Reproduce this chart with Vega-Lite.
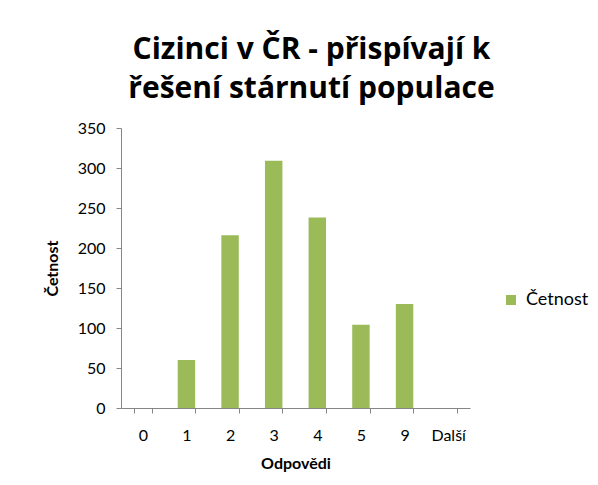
{
  "$schema": "https://vega.github.io/schema/vega-lite/v6.json",
  "autosize": "none",
  "width": 349,
  "height": 280,
  "padding": {"left": 121, "top": 128, "right": 128, "bottom": 77},
  "background": "white",
  "title": {
    "text": ["Cizinci v ČR - přispívají k", "řešení stárnutí populace"],
    "font": "Open Sans",
    "fontSize": 30,
    "fontWeight": "bold",
    "color": "#000000",
    "anchor": "middle",
    "dx": 16,
    "offset": 16,
    "lineHeight": 39
  },
  "data": {
    "values": [
      {"odpoved": "0", "cetnost": 0, "serie": "Četnost"},
      {"odpoved": "1", "cetnost": 60, "serie": "Četnost"},
      {"odpoved": "2", "cetnost": 216, "serie": "Četnost"},
      {"odpoved": "3", "cetnost": 309, "serie": "Četnost"},
      {"odpoved": "4", "cetnost": 238, "serie": "Četnost"},
      {"odpoved": "5", "cetnost": 104, "serie": "Četnost"},
      {"odpoved": "9", "cetnost": 130, "serie": "Četnost"},
      {"odpoved": "Další", "cetnost": 0, "serie": "Četnost"}
    ]
  },
  "mark": {"type": "bar"},
  "encoding": {
    "x": {
      "field": "odpoved",
      "type": "nominal",
      "sort": null,
      "scale": {"paddingInner": 0.6, "paddingOuter": 0.3},
      "axis": {
        "title": "Odpovědi",
        "titleFont": "Lato",
        "titleFontSize": 16,
        "titleFontWeight": "bold",
        "titleColor": "#000000",
        "titlePadding": 12,
        "labelAngle": 0,
        "labelFont": "Lato",
        "labelFontSize": 16,
        "labelColor": "#000000",
        "labelPadding": 14,
        "tickBand": "extent",
        "tickSize": 5,
        "tickColor": "#868686",
        "domainColor": "#868686",
        "grid": false
      }
    },
    "y": {
      "field": "cetnost",
      "type": "quantitative",
      "scale": {"domain": [0, 350], "nice": false},
      "axis": {
        "title": "Četnost",
        "titleFont": "Lato",
        "titleFontSize": 16,
        "titleFontWeight": "bold",
        "titleColor": "#000000",
        "titlePadding": 17,
        "values": [0, 50, 100, 150, 200, 250, 300, 350],
        "labelFont": "Lato",
        "labelFontSize": 16,
        "labelColor": "#000000",
        "labelPadding": 11,
        "tickSize": 5,
        "tickColor": "#868686",
        "domainColor": "#868686",
        "grid": false
      }
    },
    "color": {
      "field": "serie",
      "type": "nominal",
      "scale": {"range": ["#9BBB59"]},
      "legend": {
        "title": null,
        "orient": "none",
        "legendX": 381,
        "legendY": 163,
        "symbolType": "square",
        "symbolSize": 100,
        "labelFont": "Lato",
        "labelFontSize": 18,
        "labelOffset": 6,
        "labelColor": "#000000"
      }
    }
  },
  "config": {"view": {"stroke": null}}
}
